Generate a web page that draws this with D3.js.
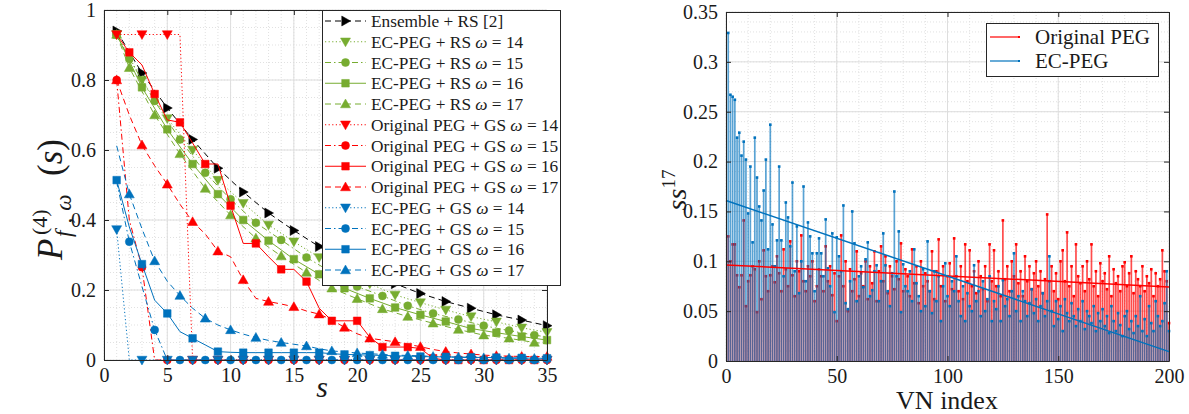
<!DOCTYPE html>
<html><head><meta charset="utf-8">
<script src="https://cdn.jsdelivr.net/npm/d3@7"></script>
<style>
body{margin:0;background:#fff;}
svg{display:block;}
text{font-family:"Liberation Serif","DejaVu Serif","Noto Serif",serif;fill:#1a1a1a;}
</style>
</head><body>
<svg id="c" width="1189" height="414"></svg>
<script>
// ---------------- DATA: left panel ----------------
const sOdd  = [1,3,5,7,9,11,13,15,17,19,21,23,25,27,29,31,33,35];
const sEven = [1,2,4,6,8,10,12,14,16,18,20,22,24,26,28,30,32,34,35];
const sAll  = [1,2,3,4,5,6,7,8,9,10,11,12,13,14,15,16,17,18,19,20,21,22,23,24,25,26,27,28,29,30,31,32,33,34,35];

const ensembleRS = [0.94,0.82,0.72,0.63,0.548,0.48,0.42,0.37,0.324,0.285,0.25,0.218,0.19,0.167,0.148,0.129,0.114,0.098];
const ecRS14 = [0.93,0.80,0.69,0.60,0.514,0.448,0.386,0.338,0.293,0.255,0.218,0.186,0.164,0.143,0.124,0.109,0.092,0.079];
const ecRS15 = [0.93,0.86,0.74,0.63,0.535,0.459,0.392,0.343,0.293,0.25,0.21,0.183,0.155,0.133,0.116,0.098,0.084,0.071,0.066];
const ecRS16 = [0.93,0.779,0.659,0.56,0.474,0.40,0.341,0.288,0.245,0.205,0.176,0.15,0.129,0.11,0.09,0.078,0.067,0.057];
const ecRS17 = [0.93,0.835,0.70,0.589,0.49,0.414,0.348,0.297,0.25,0.205,0.175,0.146,0.124,0.105,0.087,0.071,0.062,0.05,0.046];

const ogGS14 = [0.93,0.93,0.93,0.93,0.93,0.93,0,0,0,0,0,0,0,0,0,0,0,0,0,0,0,0,0,0,0,0,0,0,0,0,0,0,0,0,0];
const ogGS15 = [0.80,0.40,0.265,0,0,0,0,0,0,0,0,0,0,0,0,0,0,0,0,0,0,0,0,0,0,0,0,0,0,0,0,0,0,0,0];
const ogGS16 = [0.93,0.879,0.843,0.76,0.686,0.679,0.62,0.56,0.56,0.441,0.333,0.333,0.295,0.259,0.259,0.224,0.148,0.112,0.112,0.112,0.065,0.037,0.037,0.037,0.033,0.005,0,0,0,0,0,0,0,0,0];
const ogGS17 = [0.80,0.70,0.614,0.555,0.502,0.445,0.395,0.36,0.311,0.295,0.229,0.176,0.167,0.16,0.152,0.14,0.131,0.115,0.093,0.075,0.062,0.057,0.052,0.045,0.038,0.03,0.024,0.02,0.017,0.014,0.012,0.011,0.01,0.01,0.01];

const ecGS14 = [0.373,0,0,0,0,0,0,0,0,0,0,0,0,0,0,0,0,0,0,0,0,0,0,0,0,0,0,0,0,0,0,0,0,0,0];
const ecGS15 = [0.51,0.338,0.21,0.086,0,0,0,0,0,0,0,0,0,0,0,0,0,0,0,0,0,0,0,0,0,0,0,0,0,0,0,0,0,0,0];
const ecGS16 = [0.514,0.38,0.274,0.171,0.133,0.081,0.062,0.043,0.024,0.022,0.021,0.021,0.021,0.021,0.021,0.021,0.021,0.018,0.016,0.015,0.014,0.013,0.012,0.011,0.01,0.009,0.009,0.008,0.008,0.007,0.007,0.006,0.006,0.005,0.005];
const ecGS17 = [0.612,0.474,0.375,0.283,0.225,0.184,0.148,0.119,0.10,0.086,0.074,0.064,0.056,0.05,0.045,0.04,0.032,0.026,0.023,0.02,0.018,0.016,0.014,0.013,0.012,0.01,0.009,0.008,0.007,0.006,0.006,0.005,0.005,0.004,0.004];

const leftLegend = ["Ensemble + RS [2]",
 "EC-PEG + RS ω = 14","EC-PEG + RS ω = 15","EC-PEG + RS ω = 16","EC-PEG + RS ω = 17",
 "Original PEG + GS ω = 14","Original PEG + GS ω = 15","Original PEG + GS ω = 16","Original PEG + GS ω = 17",
 "EC-PEG + GS ω = 14","EC-PEG + GS ω = 15","EC-PEG + GS ω = 16","EC-PEG + GS ω = 17"];

const leftXTicks = [0,5,10,15,20,25,30,35];
const leftYTicks = [0,0.2,0.4,0.6,0.8,1];
const leftYTickLabels = ["0","0.2","0.4","0.6","0.8","1"];

// ---------------- DATA: right panel ----------------
const vnIndex = d3.range(1,201);
const originalPEG = [
0.125,0.100,0.117,0.117,0.086,0.074,0.086,0.141,0.055,0.080,
0.086,0.095,0.092,0.049,0.100,0.062,0.111,0.085,0.070,0.086,
0.095,0.079,0.105,0.088,0.070,0.112,0.092,0.075,0.120,0.086,
0.065,0.100,0.090,0.126,0.080,0.070,0.095,0.085,0.100,0.060,
0.075,0.092,0.085,0.070,0.115,0.080,0.095,0.066,0.088,0.040,
0.085,0.126,0.075,0.100,0.050,0.092,0.070,0.082,0.110,0.065,
0.088,0.075,0.100,0.062,0.095,0.078,0.110,0.060,0.090,0.115,
0.080,0.105,0.068,0.095,0.085,0.072,0.100,0.082,0.118,0.070,
0.092,0.085,0.065,0.112,0.078,0.095,0.058,0.100,0.075,0.088,
0.080,0.070,0.110,0.062,0.090,0.122,0.075,0.095,0.060,0.085,
0.098,0.072,0.123,0.085,0.070,0.095,0.062,0.117,0.080,0.111,
0.075,0.090,0.068,0.100,0.085,0.072,0.095,0.060,0.117,0.080,
0.111,0.075,0.090,0.065,0.141,0.082,0.095,0.070,0.100,0.085,
0.117,0.078,0.090,0.065,0.105,0.080,0.095,0.072,0.088,0.100,
0.075,0.090,0.068,0.082,0.147,0.080,0.095,0.070,0.088,0.062,
0.100,0.111,0.080,0.129,0.075,0.095,0.065,0.117,0.085,0.078,
0.095,0.070,0.100,0.082,0.117,0.075,0.090,0.065,0.098,0.080,
0.088,0.072,0.105,0.065,0.092,0.078,0.085,0.070,0.095,0.099,
0.075,0.088,0.105,0.068,0.090,0.082,0.075,0.095,0.070,0.085,
0.078,0.092,0.065,0.088,0.075,0.082,0.111,0.090,0.080,0.038];
const ecPEG = [
0.329,0.267,0.265,0.262,0.224,0.229,0.206,0.220,0.202,0.148,
0.195,0.119,0.224,0.184,0.155,0.141,0.171,0.202,0.112,0.237,
0.137,0.095,0.121,0.195,0.121,0.085,0.159,0.144,0.115,0.179,
0.090,0.135,0.068,0.100,0.175,0.080,0.139,0.125,0.108,0.070,
0.108,0.123,0.108,0.085,0.142,0.093,0.075,0.128,0.049,0.124,
0.105,0.090,0.156,0.058,0.052,0.080,0.150,0.118,0.060,0.085,
0.095,0.074,0.102,0.119,0.065,0.071,0.090,0.096,0.060,0.080,
0.128,0.096,0.070,0.055,0.088,0.170,0.085,0.130,0.049,0.097,
0.075,0.070,0.090,0.060,0.112,0.078,0.065,0.050,0.092,0.055,
0.120,0.070,0.048,0.090,0.060,0.085,0.040,0.075,0.098,0.065,
0.055,0.080,0.070,0.105,0.060,0.045,0.075,0.040,0.068,0.055,
0.050,0.096,0.060,0.070,0.045,0.080,0.050,0.062,0.085,0.040,
0.060,0.052,0.075,0.040,0.081,0.055,0.062,0.045,0.070,0.108,
0.050,0.065,0.040,0.070,0.060,0.045,0.058,0.072,0.048,0.062,
0.040,0.055,0.068,0.045,0.060,0.105,0.050,0.035,0.060,0.042,
0.055,0.030,0.062,0.048,0.040,0.058,0.045,0.035,0.052,0.040,
0.060,0.032,0.050,0.045,0.038,0.055,0.030,0.048,0.040,0.052,
0.035,0.045,0.028,0.055,0.040,0.030,0.048,0.036,0.025,0.045,
0.050,0.032,0.040,0.028,0.045,0.035,0.065,0.030,0.042,0.025,
0.055,0.038,0.030,0.060,0.045,0.035,0.040,0.058,0.090,0.030];
const trendX = [0,200];
const trendOriginal = [0.0963,0.0743];
const trendEC = [0.161,0.0094];
const rightLegend = ["Original PEG","EC-PEG"];
const rightXTicks = [0,50,100,150,200];
const rightYTicks = [0,0.05,0.1,0.15,0.2,0.25,0.3,0.35];

// ---------------- styles ----------------
const FONT = "'Liberation Serif','DejaVu Serif','Noto Serif',serif";
const GREEN="#77AC30", RED="#FF0000", BLUE="#0072BD", BLACK="#000000";
const DASH={solid:null, dashed:"6,4", dotted:"1.2,2.4", dashdot:"6,3,1.5,3"};
const leftSeries = [
 {s:sOdd, p:ensembleRS, c:BLACK, d:"dashed", m:"right", mk:()=>true},
 {s:sOdd, p:ecRS14, c:GREEN, d:"dotted", m:"down", mk:()=>true},
 {s:sEven, p:ecRS15, c:GREEN, d:"dashdot", m:"circle", mk:(s)=>s!==35},
 {s:sOdd, p:ecRS16, c:GREEN, d:"solid", m:"square", mk:()=>true},
 {s:sEven, p:ecRS17, c:GREEN, d:"dashed", m:"up", mk:(s)=>s!==35},
 {s:sAll, p:ogGS14, c:RED, d:"dotted", m:"down", mk:(s)=>s%2===1},
 {s:sAll, p:ogGS15, c:RED, d:"dashdot", m:"circle", mk:(s)=>s%2===1},
 {s:sAll, p:ogGS16, c:RED, d:"solid", m:"square", mk:(s)=>s%2===0},
 {s:sAll, p:ogGS17, c:RED, d:"dashed", m:"up", mk:(s)=>s%2===1},
 {s:sAll, p:ecGS14, c:BLUE, d:"dotted", m:"down", mk:(s)=>s%2===1},
 {s:sAll, p:ecGS15, c:BLUE, d:"dashdot", m:"circle", mk:(s)=>s%2===0},
 {s:sAll, p:ecGS16, c:BLUE, d:"solid", m:"square", mk:(s)=>s%2===1},
 {s:sAll, p:ecGS17, c:BLUE, d:"dashed", m:"up", mk:(s)=>s%2===0}
];

function markerPath(t){
  const h=5;
  if(t==="down") return `M${-h},${-h*0.75}L${h},${-h*0.75}L0,${h}Z`;
  if(t==="up") return `M${-h},${h*0.75}L${h},${h*0.75}L0,${-h}Z`;
  if(t==="right") return `M${-h*0.75},${-h}L${-h*0.75},${h}L${h},0Z`;
  if(t==="circle") return "M4,0A4,4 0 1,1 -4,0A4,4 0 1,1 4,0Z";
  return "M-3.8,-3.8h7.6v7.6h-7.6Z";
}

const svg = d3.select("#c");
const AX="#262626";

function grid(g, x, y, xMinor, yMinor, xMajor, yMajor){
  const [x0,x1]=x.range(), [y0,y1]=y.range();
  g.append("g").selectAll("line").data(xMinor).join("line")
   .attr("x1",d=>x(d)).attr("x2",d=>x(d)).attr("y1",y0).attr("y2",y1)
   .attr("stroke","#d9d9d9").attr("stroke-width",0.8).attr("stroke-dasharray","1,2");
  g.append("g").selectAll("line").data(yMinor).join("line")
   .attr("y1",d=>y(d)).attr("y2",d=>y(d)).attr("x1",x0).attr("x2",x1)
   .attr("stroke","#d9d9d9").attr("stroke-width",0.8).attr("stroke-dasharray","1,2");
  g.append("g").selectAll("line").data(xMajor).join("line")
   .attr("x1",d=>x(d)).attr("x2",d=>x(d)).attr("y1",y0).attr("y2",y1)
   .attr("stroke","#dedede").attr("stroke-width",1);
  g.append("g").selectAll("line").data(yMajor).join("line")
   .attr("y1",d=>y(d)).attr("y2",d=>y(d)).attr("x1",x0).attr("x2",x1)
   .attr("stroke","#dedede").attr("stroke-width",1);
}

function frame(x, y, xt, yt, yfmt, fs){
  const [x0,x1]=x.range(), [y0,y1]=y.range();
  const b = svg.append("g").attr("transform",`translate(0,${y0})`)
    .call(d3.axisBottom(x).tickValues(xt).tickSizeInner(-5).tickSizeOuter(0).tickPadding(8));
  const l = svg.append("g").attr("transform",`translate(${x0},0)`)
    .call(d3.axisLeft(y).tickValues(yt).tickFormat(yfmt).tickSizeInner(-5).tickSizeOuter(0).tickPadding(8));
  const t = svg.append("g").attr("transform",`translate(0,${y1})`)
    .call(d3.axisTop(x).tickValues(xt).tickSizeInner(-5).tickSizeOuter(0).tickFormat(""));
  const r = svg.append("g").attr("transform",`translate(${x1},0)`)
    .call(d3.axisRight(y).tickValues(yt).tickSizeInner(-5).tickSizeOuter(0).tickFormat(""));
  [b,l,t,r].forEach(a=>{
    a.attr("font-family",FONT).attr("font-size",fs);
    a.select(".domain").attr("stroke",AX).attr("stroke-width",1);
    a.selectAll(".tick line").attr("stroke",AX);
    a.selectAll("text").style("font-family",FONT).style("font-size",fs+"px").attr("fill","#1a1a1a");
  });
}

// ================= LEFT PANEL =================
const xL = d3.scaleLinear().domain([0,35]).range([104,547]);
const yL = d3.scaleLinear().domain([0,1]).range([360,10]);
grid(svg.append("g"), xL, yL, d3.range(0,36,1), d3.range(0,1.001,0.05), leftXTicks, leftYTicks);

svg.append("clipPath").attr("id","clipL").append("rect").attr("x",104).attr("y",10).attr("width",443).attr("height",350);
const gL = svg.append("g");
const lineL = d3.line().x(d=>xL(d[0])).y(d=>yL(d[1]));
leftSeries.forEach(se=>{
  const pts = se.s.map((s,i)=>[s,se.p[i]]);
  gL.append("path").attr("clip-path","url(#clipL)").attr("d",lineL(pts)).attr("fill","none")
    .attr("stroke",se.c).attr("stroke-width",1).attr("stroke-dasharray",DASH[se.d]);
  gL.append("g").selectAll("path").data(pts.filter(d=>se.mk(d[0]))).join("path")
    .attr("transform",d=>`translate(${xL(d[0])},${yL(d[1])})`)
    .attr("d",markerPath(se.m)).attr("fill",se.c).attr("stroke",se.c).attr("stroke-width",0.5);
});
frame(xL, yL, leftXTicks, leftYTicks, (d,i)=>leftYTickLabels[i], 20);

// left legend
const lg = svg.append("g");
lg.append("rect").attr("x",322.5).attr("y",10.5).attr("width",238).attr("height",275)
  .attr("fill","#fff").attr("stroke",AX).attr("stroke-width",1);
leftSeries.forEach((se,i)=>{
  const yy = 21 + i*20.75;
  lg.append("line").attr("x1",325).attr("x2",366).attr("y1",yy).attr("y2",yy)
    .attr("stroke",se.c).attr("stroke-width",1).attr("stroke-dasharray",DASH[se.d]);
  lg.append("path").attr("transform",`translate(345.5,${yy})`).attr("d",markerPath(se.m))
    .attr("fill",se.c).attr("stroke",se.c).attr("stroke-width",0.5);
  const label = leftLegend[i];
  const t = lg.append("text").attr("x",371).attr("y",yy+6).style("font-size","17.3px");
  const k = label.indexOf("ω");
  if(k<0){ t.text(label); }
  else {
    t.append("tspan").text(label.slice(0,k));
    t.append("tspan").attr("font-style","italic").text("ω");
    t.append("tspan").text(label.slice(k+1));
  }
});

// left axis labels
svg.append("text").attr("x",322).attr("y",397).style("font-size","30px").attr("font-style","italic").attr("text-anchor","middle").text("s");
const yl = svg.append("g").attr("transform","translate(62,188) rotate(-90)");
yl.append("text").attr("x",-72).attr("y",0).style("font-size","35px").attr("font-style","italic").text("P");
yl.append("text").attr("x",-47).attr("y",-15).style("font-size","22px").text("(4)");
yl.append("text").attr("x",-49).attr("y",9).style("font-size","23px").attr("font-style","italic").attr("letter-spacing","7").text("f,ω");
const ys = yl.append("text").attr("x",12).attr("y",0).style("font-size","35px");
ys.append("tspan").text("(");
ys.append("tspan").attr("font-style","italic").text("s");
ys.append("tspan").text(")");

// ================= RIGHT PANEL =================
const xR = d3.scaleLinear().domain([0,200]).range([726,1169]);
const yR = d3.scaleLinear().domain([0,0.35]).range([361,12]);
grid(svg.append("g"), xR, yR, d3.range(0,201,10), d3.range(0,0.3501,0.01), rightXTicks, rightYTicks);

const gR = svg.append("g");
function stems(vals, col, op){
  const g = gR.append("g");
  g.selectAll("line").data(vals).join("line")
    .attr("x1",(d,i)=>xR(vnIndex[i])).attr("x2",(d,i)=>xR(vnIndex[i]))
    .attr("y1",yR(0)).attr("y2",d=>yR(d))
    .attr("stroke",col).attr("stroke-width",1.7).attr("stroke-opacity",op);
  g.selectAll("rect").data(vals).join("rect")
    .attr("x",(d,i)=>xR(vnIndex[i])-1.3).attr("y",d=>yR(d)-1.3).attr("width",2.6).attr("height",2.6)
    .attr("fill",col);
}
stems(originalPEG, RED, 0.7);
stems(ecPEG, BLUE, 0.65);
const lineR = d3.line().x(d=>xR(d[0])).y(d=>yR(d[1]));
gR.append("path").attr("d",lineR(trendX.map((x,i)=>[x,trendOriginal[i]]))).attr("stroke",RED).attr("stroke-width",1.5).attr("fill","none");
gR.append("path").attr("d",lineR(trendX.map((x,i)=>[x,trendEC[i]]))).attr("stroke",BLUE).attr("stroke-width",1.5).attr("fill","none");
frame(xR, yR, rightXTicks, rightYTicks, d=>d===0?"0":String(+d.toFixed(2)), 20);

// right legend
const rg = svg.append("g");
rg.append("rect").attr("x",986.5).attr("y",23.5).attr("width",172).attr("height",53)
  .attr("fill","#fff").attr("stroke",AX).attr("stroke-width",1);
[RED,BLUE].forEach((c,i)=>{
  const yy = 37 + i*24;
  rg.append("line").attr("x1",990).attr("x2",1019).attr("y1",yy).attr("y2",yy).attr("stroke",c).attr("stroke-width",1.2);
  rg.append("rect").attr("x",1018).attr("y",yy-1).attr("width",2).attr("height",2).attr("fill",c);
  rg.append("text").attr("x",1035).attr("y",yy+7).style("font-size","21px").text(rightLegend[i]);
});

// right axis labels
svg.append("text").attr("x",947).attr("y",409).style("font-size","26px").attr("text-anchor","middle").text("VN index");
const yr = svg.append("text").attr("transform","translate(686,190) rotate(-90)").style("font-size","28px").attr("text-anchor","middle");
yr.append("tspan").attr("font-style","italic").text("ss");
yr.append("tspan").style("font-size","19px").attr("dy",-11).text("17");
</script>
</body></html>
